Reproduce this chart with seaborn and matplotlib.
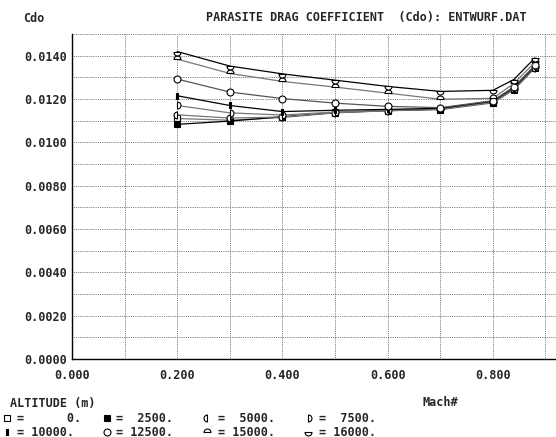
import matplotlib
matplotlib.use("Agg")
import matplotlib.pyplot as plt
import numpy as np
import pandas as pd
import seaborn as sns
from matplotlib.path import Path
from matplotlib.lines import Line2D
from matplotlib.ticker import MultipleLocator, FormatStrFormatter

# data
mach = [0.2, 0.3, 0.4, 0.5, 0.6, 0.7, 0.8, 0.84, 0.88]
altitudes = [0, 2500, 5000, 7500, 10000, 12500, 15000, 16000]
cd_0 = [0.01110, 0.01102, 0.01115, 0.01136, 0.01146, 0.01151, 0.01182, 0.01243, 0.01343]
cd_2500 = [0.01083, 0.01098, 0.01118, 0.01138, 0.01147, 0.01153, 0.01186, 0.01246, 0.01347]
cd_5000 = [0.01127, 0.01112, 0.01117, 0.01137, 0.01146, 0.01152, 0.01184, 0.01245, 0.01345]
cd_7500 = [0.01170, 0.01136, 0.01126, 0.01140, 0.01148, 0.01154, 0.01187, 0.01248, 0.01349]
cd_10000 = [0.01215, 0.01170, 0.01142, 0.01148, 0.01152, 0.01157, 0.01190, 0.01252, 0.01352]
cd_12500 = [0.01292, 0.01232, 0.01202, 0.01181, 0.01166, 0.01160, 0.01192, 0.01256, 0.01356]
cd_15000 = [0.01384, 0.01318, 0.01281, 0.01255, 0.01227, 0.01199, 0.01203, 0.01272, 0.01370]
cd_16000 = [0.01419, 0.01352, 0.01316, 0.01287, 0.01258, 0.01235, 0.01240, 0.01290, 0.01390]
series = [cd_0, cd_2500, cd_5000, cd_7500, cd_10000, cd_12500, cd_15000, cd_16000]
alt_labels = ["=      0.", "=  2500.", "=  5000.", "=  7500.",
              "= 10000.", "= 12500.", "= 15000.", "= 16000."]

df = pd.DataFrame({
    "Mach": np.tile(mach, len(altitudes)),
    "Cdo": np.concatenate(series),
    "alt": np.repeat(altitudes, len(mach)),
})

# marker shapes (old plotter symbols)
bar = Path([(-0.35, -1), (0.35, -1), (0.35, 1), (-0.35, 1), (-0.35, -1)],
           [Path.MOVETO, Path.LINETO, Path.LINETO, Path.LINETO, Path.CLOSEPOLY])
styles = {
    0: dict(marker="s", mfc="white"),
    2500: dict(marker="s", mfc="black"),
    5000: dict(marker=Path.wedge(90, 270), mfc="white"),
    7500: dict(marker=Path.wedge(-90, 90), mfc="white"),
    10000: dict(marker=bar, mfc="black"),
    12500: dict(marker="o", mfc="white"),
    15000: dict(marker=Path.wedge(0, 180), mfc="white"),
    16000: dict(marker=Path.wedge(180, 360), mfc="white"),
}
line_colors = {0: "#777777", 2500: "black", 5000: "#777777", 7500: "#777777",
               10000: "black", 12500: "#555555", 15000: "#777777", 16000: "black"}

sns.set_style("white")
plt.rcParams["font.family"] = ["DejaVu Sans Mono", "DejaVu Sans"]
plt.rcParams["font.weight"] = "bold"

W, H = 556, 437
fig = plt.figure(figsize=(W / 100, H / 100), dpi=100)
ax = fig.add_axes([72 / W, 78 / H, (W - 72) / W, (359 - 34) / H])

for alt in altitudes:
    sub = df[df["alt"] == alt]
    st = styles[alt]
    sns.lineplot(data=sub, x="Mach", y="Cdo", ax=ax, color=line_colors[alt],
                 lw=0.9, marker=st["marker"], mfc=st["mfc"], mec="black",
                 mew=0.8, ms=5, legend=False)

ax.set_xlim(0, 0.92)
ax.set_ylim(0, 0.0150)
ax.xaxis.set_major_locator(MultipleLocator(0.2))
ax.xaxis.set_minor_locator(MultipleLocator(0.1))
ax.yaxis.set_major_locator(MultipleLocator(0.002))
ax.yaxis.set_minor_locator(MultipleLocator(0.001))
ax.xaxis.set_major_formatter(FormatStrFormatter("%.3f"))
ax.yaxis.set_major_formatter(FormatStrFormatter("%.4f"))
ax.set_yticks(np.arange(0, 0.0141, 0.002))
ax.grid(which="both", color="#555555", lw=0.6, ls=(0, (1, 1.2)))
ax.tick_params(which="both", length=0, labelsize=8.5)
ax.tick_params(axis="x", pad=7)
ax.tick_params(axis="y", pad=3.5)
for lab in ax.get_xticklabels() + ax.get_yticklabels():
    lab.set_fontweight("bold")
ax.set_xlabel("")
ax.set_ylabel("")
for s in ["top", "right"]:
    ax.spines[s].set_visible(False)
for s in ["left", "bottom"]:
    ax.spines[s].set_color("black")
    ax.spines[s].set_linewidth(1.0)

def fx(x):
    return x / W

def fy(y):
    return 1 - y / H

txt = dict(fontsize=8.5, fontweight="bold", va="center")
fig.text(fx(23), fy(18), "Cdo", **txt)
fig.text(fx(527), fy(18), "PARASITE DRAG COEFFICIENT  (Cdo): ENTWURF.DAT", ha="right", **txt)
fig.text(fx(10), fy(403), "ALTITUDE (m)", **txt)
fig.text(fx(458), fy(403), "Mach#", ha="right", **txt)

# altitude key
mark_x = [7, 107, 207, 308]
text_x = [17, 116, 218, 319]
rows_y = [418, 432]
for i, alt in enumerate(altitudes):
    r, c = divmod(i, 4)
    st = styles[alt]
    fig.add_artist(Line2D([fx(mark_x[c])], [fy(rows_y[r])], transform=fig.transFigure,
                          marker=st["marker"], mfc=st["mfc"], mec="black",
                          mew=0.8, ms=5, ls="none"))
    fig.text(fx(text_x[c]), fy(rows_y[r]), alt_labels[i], **txt)

fig.savefig("out.png", dpi=100)
